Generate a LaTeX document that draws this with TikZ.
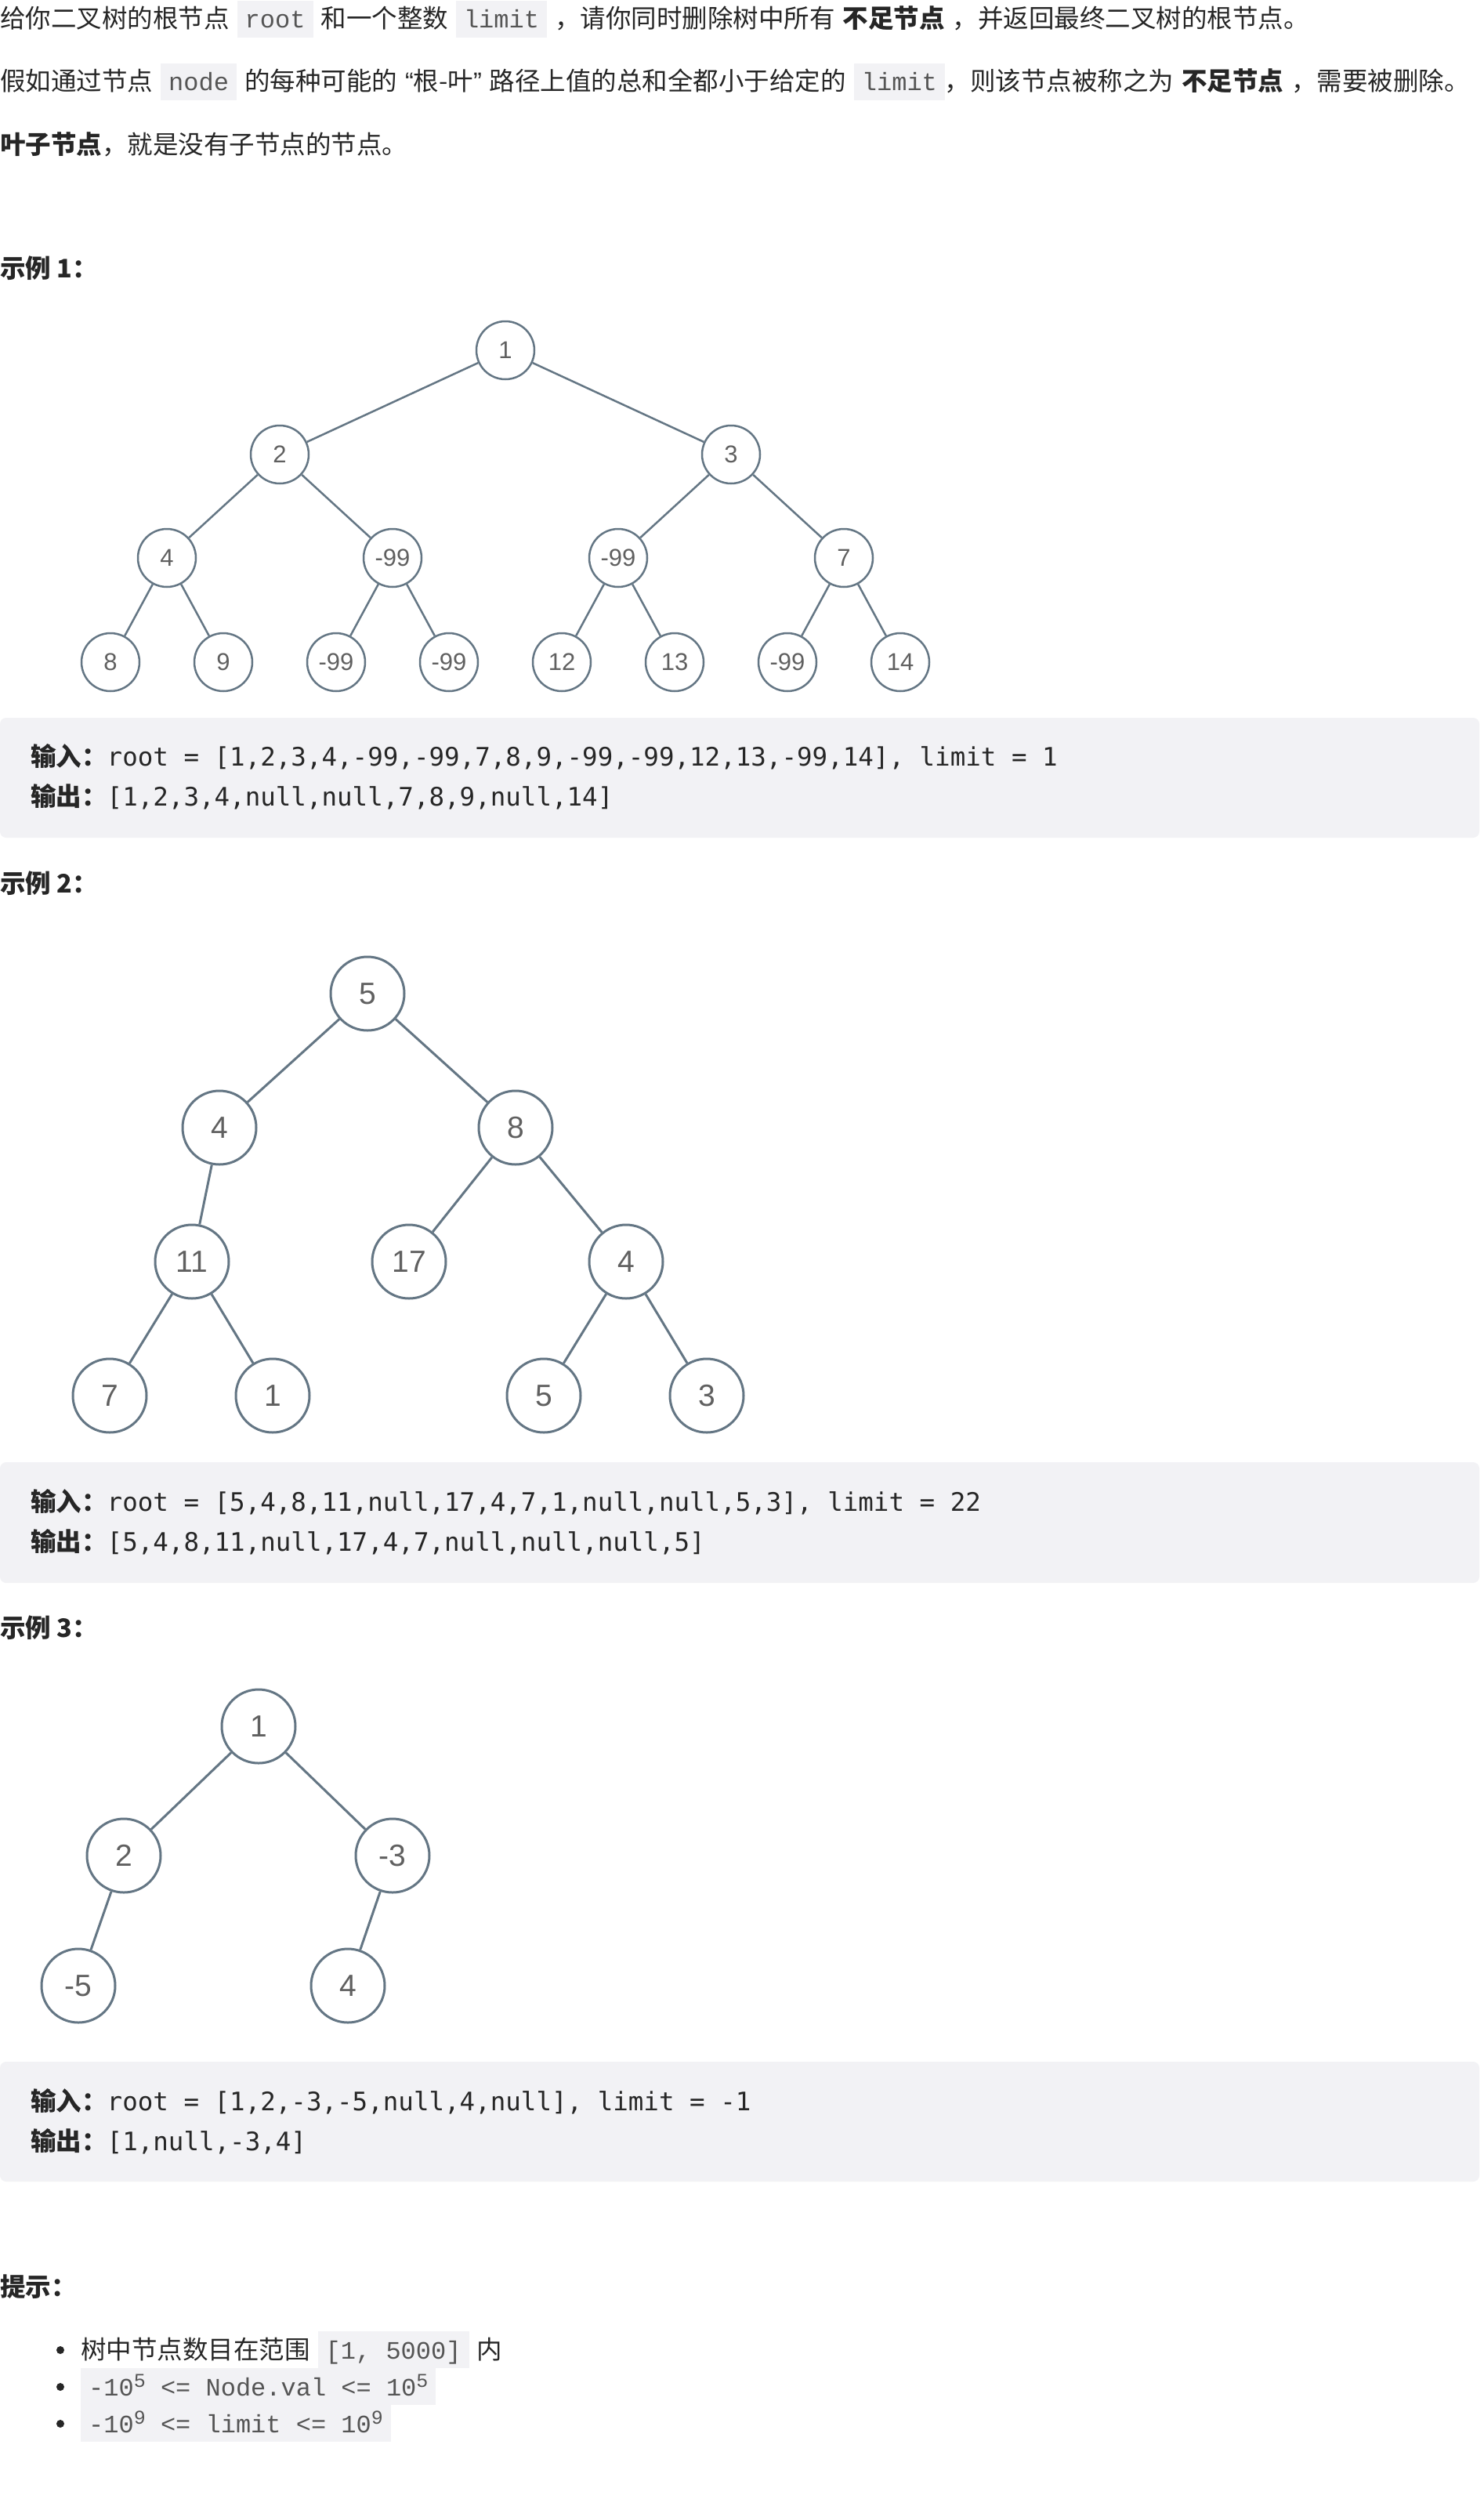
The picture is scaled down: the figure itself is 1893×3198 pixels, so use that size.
\documentclass[tikz,border=0pt]{standalone}
\usepackage{fontspec}
\setmainfont{Noto Sans CJK SC}
\newfontfamily\valfont{Liberation Sans}
\newfontfamily\inlinefont{Liberation Mono}
\newfontfamily\blockfont{DejaVu Sans Mono}
\usepackage{tikz}
\usetikzlibrary{positioning}

\definecolor{linegray}{RGB}{100,118,132}
\definecolor{valgray}{RGB}{96,96,96}
\definecolor{codebg}{RGB}{242,242,245}
\definecolor{inkblack}{RGB}{38,38,38}
\definecolor{inlinegray}{RGB}{85,85,85}

\newcommand{\inlinecode}[1]{{\setlength{\fboxsep}{0pt}\setlength{\spaceskip}{0pt}\colorbox{codebg}{\rule[-12pt]{0pt}{47pt}\hspace{10pt}{\inlinefont\fontsize{32}{32}\selectfont\color{inlinegray}#1}\hspace{10pt}}}}
\newcommand{\sups}[1]{\raisebox{11pt}{\fontsize{25}{25}\selectfont #1}}
\newcommand{\cjkbold}[1]{{\rmfamily\bfseries #1}}
\newcommand{\latinq}[1]{{\valfont #1}}
\newcommand{\widespace}{\setlength{\spaceskip}{10pt}}

\tikzstyle{para} = [anchor=base west, inner sep=0pt, text=inkblack,
    font=\fontsize{32.5}{32.5}\selectfont\widespace]
\tikzstyle{heading} = [para, font=\fontsize{32.5}{32.5}\selectfont\bfseries]
\tikzstyle{codeline} = [anchor=base west, inner sep=0pt, text=inkblack,
    font=\blockfont\fontsize{32.5}{32.5}\selectfont]
\tikzstyle{codebox} = [fill=codebg, rounded corners=8pt]
\tikzstyle{treenode} = [circle, draw=linegray, line width=2.5pt, inner sep=0pt,
    minimum size=74pt, text=valgray, font=\valfont\fontsize{31}{31}\selectfont]
\tikzstyle{bigtreenode} = [treenode, line width=3pt, minimum size=94pt,
    font=\valfont\fontsize{39}{39}\selectfont]
\tikzstyle{branch} = [draw=linegray, line width=2.5pt]
\tikzstyle{dot} = [circle, fill=inkblack, inner sep=0pt, minimum size=10pt]

\begin{document}
\begin{tikzpicture}[x=1pt, y=-1pt]
    \path [use as bounding box, fill=white] (0,0) rectangle (1893,3198);

    % Problem text
    \node [para] (intro1) at (0,36) {给你二叉树的根节点 \inlinecode{root} 和一个整数 \inlinecode{limit} ，请你同时删除树中所有 \textbf{不足节点} ，并返回最终二叉树的根节点。};
    \node [para] (intro2) at (0,116) {假如通过节点 \inlinecode{node} 的每种可能的 \latinq{“}根-叶\latinq{”} 路径上值的总和全都小于给定的 \inlinecode{limit}，则该节点被称之为 \textbf{不足节点} ，需要被删除。};
    \node [para] (intro3) at (0,196) {\textbf{叶子节点}，就是没有子节点的节点。};

    % Example 1
    \node [heading] (ex1) at (0,354) {示例 1：};

    \node [treenode] (a1) at (645,447) {1};
    \node [treenode] (a2) at (357,580) {2};
    \node [treenode] (a3) at (933,580) {3};
    \node [treenode] (a4) at (213,712) {4};
    \node [treenode] (a5) at (501,712) {-99};
    \node [treenode] (a6) at (789,712) {-99};
    \node [treenode] (a7) at (1077,712) {7};
    \node [treenode] (a8) at (141,845) {8};
    \node [treenode] (a9) at (285,845) {9};
    \node [treenode] (a10) at (429,845) {-99};
    \node [treenode] (a11) at (573,845) {-99};
    \node [treenode] (a12) at (717,845) {12};
    \node [treenode] (a13) at (861,845) {13};
    \node [treenode] (a14) at (1005,845) {-99};
    \node [treenode] (a15) at (1149,845) {14};

    \path [branch] (a1) -- (a2);
    \path [branch] (a1) -- (a3);
    \path [branch] (a2) -- (a4);
    \path [branch] (a2) -- (a5);
    \path [branch] (a3) -- (a6);
    \path [branch] (a3) -- (a7);
    \path [branch] (a4) -- (a8);
    \path [branch] (a4) -- (a9);
    \path [branch] (a5) -- (a10);
    \path [branch] (a5) -- (a11);
    \path [branch] (a6) -- (a12);
    \path [branch] (a6) -- (a13);
    \path [branch] (a7) -- (a14);
    \path [branch] (a7) -- (a15);

    \path [codebox] (0,916) rectangle (1888,1069);
    \node [codeline] (in1) at (39,977) {\cjkbold{输入：}root = [1,2,3,4,-99,-99,7,8,9,-99,-99,12,13,-99,14], limit = 1};
    \node [codeline] (out1) at (39,1028) {\cjkbold{输出：}[1,2,3,4,null,null,7,8,9,null,14]};

    % Example 2
    \node [heading] (ex2) at (0,1139) {示例 2：};

    \node [bigtreenode] (b1) at (469,1268) {5};
    \node [bigtreenode] (b2) at (280,1439) {4};
    \node [bigtreenode] (b3) at (658,1439) {8};
    \node [bigtreenode] (b4) at (245,1610) {11};
    \node [bigtreenode] (b5) at (522,1610) {17};
    \node [bigtreenode] (b6) at (799,1610) {4};
    \node [bigtreenode] (b7) at (140,1781) {7};
    \node [bigtreenode] (b8) at (348,1781) {1};
    \node [bigtreenode] (b9) at (694,1781) {5};
    \node [bigtreenode] (b10) at (902,1781) {3};

    \path [branch, line width=3pt] (b1) -- (b2);
    \path [branch, line width=3pt] (b1) -- (b3);
    \path [branch, line width=3pt] (b2) -- (b4);
    \path [branch, line width=3pt] (b3) -- (b5);
    \path [branch, line width=3pt] (b3) -- (b6);
    \path [branch, line width=3pt] (b4) -- (b7);
    \path [branch, line width=3pt] (b4) -- (b8);
    \path [branch, line width=3pt] (b6) -- (b9);
    \path [branch, line width=3pt] (b6) -- (b10);

    \path [codebox] (0,1866) rectangle (1888,2020);
    \node [codeline] (in2) at (39,1928) {\cjkbold{输入：}root = [5,4,8,11,null,17,4,7,1,null,null,5,3], limit = 22};
    \node [codeline] (out2) at (39,1979) {\cjkbold{输出：}[5,4,8,11,null,17,4,7,null,null,null,5]};

    % Example 3
    \node [heading] (ex3) at (0,2089) {示例 3：};

    \node [bigtreenode] (c1) at (330,2203) {1};
    \node [bigtreenode] (c2) at (158,2368) {2};
    \node [bigtreenode] (c3) at (501,2368) {-3};
    \node [bigtreenode] (c4) at (100,2534) {-5};
    \node [bigtreenode] (c5) at (444,2534) {4};

    \path [branch, line width=3pt] (c1) -- (c2);
    \path [branch, line width=3pt] (c1) -- (c3);
    \path [branch, line width=3pt] (c2) -- (c4);
    \path [branch, line width=3pt] (c3) -- (c5);

    \path [codebox] (0,2631) rectangle (1888,2784);
    \node [codeline] (in3) at (39,2693) {\cjkbold{输入：}root = [1,2,-3,-5,null,4,null], limit = -1};
    \node [codeline] (out3) at (39,2744) {\cjkbold{输出：}[1,null,-3,4]};

    % Hints
    \node [heading] (tips) at (0,2930) {提示：};

    \node [dot] (dot1) at (77,2999) {};
    \node [dot] (dot2) at (77,3046) {};
    \node [dot] (dot3) at (77,3093) {};
    \node [para] (tip1) at (103,3010) {树中节点数目在范围 \inlinecode{[1, 5000]} 内};
    \node [para] (tip2) at (103,3057) {\inlinecode{-10\sups{5} <= Node.val <= 10\sups{5}}};
    \node [para] (tip3) at (103,3104) {\inlinecode{-10\sups{9} <= limit <= 10\sups{9}}};

\end{tikzpicture}
\end{document}
